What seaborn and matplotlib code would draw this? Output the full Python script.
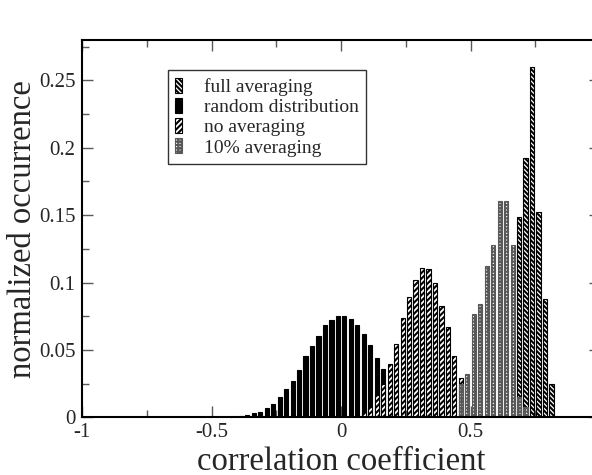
import numpy as np
import pandas as pd
import matplotlib
matplotlib.use('Agg')
import matplotlib.pyplot as plt
from matplotlib.ticker import MultipleLocator, FuncFormatter
import seaborn as sns

# histogram bins, width 0.025 (centres listed below)
random_x = [-0.3875, -0.3625, -0.3375, -0.3125, -0.2875, -0.2625, -0.2375, -0.2125,
            -0.1875, -0.1625, -0.1375, -0.1125, -0.0875, -0.0625, -0.0375, -0.0125,
            0.0125, 0.0375, 0.0625, 0.0875, 0.1125, 0.1375, 0.1625]
random_y = [0.0012, 0.0015, 0.003, 0.0042, 0.0072, 0.0099, 0.0149, 0.0209,
            0.0273, 0.0353, 0.0452, 0.0529, 0.0606, 0.0686, 0.072, 0.075,
            0.075, 0.0731, 0.0683, 0.0616, 0.0537, 0.0437, 0.036]

noavg_x = [0.0875, 0.1125, 0.1375, 0.1625, 0.1875, 0.2125, 0.2375, 0.2625,
           0.2875, 0.3125, 0.3375, 0.3625, 0.3875, 0.4125, 0.4375, 0.4625]
noavg_y = [0.0042, 0.0079, 0.0166, 0.025, 0.0395, 0.0544, 0.074, 0.0895,
           0.1021, 0.1111, 0.1103, 0.0999, 0.0827, 0.0671, 0.0456, 0.0295]

ten_x = [0.4625, 0.4875, 0.5125, 0.5375, 0.5625, 0.5875, 0.6125, 0.6375,
         0.6625, 0.6875, 0.7125]
ten_y = [0.025, 0.0321, 0.0763, 0.0842, 0.1123, 0.128, 0.1603, 0.1603,
         0.128, 0.015, 0.008]

full_x = [0.6875, 0.7125, 0.7375, 0.7625, 0.7875, 0.8125]
full_y = [0.1484, 0.1924, 0.2602, 0.1521, 0.088, 0.025]

sns.set_style("ticks")
plt.rcParams['font.family'] = ['Liberation Serif', 'DejaVu Serif']
plt.rcParams['axes.unicode_minus'] = False
plt.rcParams['hatch.linewidth'] = 1.5

fig = plt.figure(figsize=(5.92, 4.75), dpi=100)
ax = fig.add_axes([0.139, 0.1215, 0.8745, 0.7943])

series = [
    ('full averaging', full_x, full_y, dict(color='white', edgecolor='black', hatch='\\' * 7)),
    ('random distribution', random_x, random_y, dict(color='black', edgecolor='black')),
    ('no averaging', noavg_x, noavg_y, dict(color='white', edgecolor='black', hatch='/' * 6)),
    ('10% averaging', ten_x, ten_y, dict(color='white', edgecolor='0.35', hatch='+' * 5)),
]

for name, xs, ys, style in series:
    df = pd.DataFrame({'x': xs, 'y': ys})
    sns.barplot(data=df, x='x', y='y', native_scale=True, width=0.65,
                errorbar=None, saturation=1, linewidth=0.8, label=name,
                ax=ax, **style)

ax.set_xlim(-1, 1)
ax.set_ylim(0, 0.28)
ax.xaxis.set_major_locator(MultipleLocator(0.5))
ax.xaxis.set_minor_locator(MultipleLocator(0.25))
ax.yaxis.set_major_locator(MultipleLocator(0.05))
ax.yaxis.set_minor_locator(MultipleLocator(0.025))
# the "1" label falls outside the picture in the original
xfmt = FuncFormatter(lambda v, p: '' if v > 0.99 else '%g' % round(v, 3))
yfmt = FuncFormatter(lambda v, p: '%g' % round(v, 3))
ax.xaxis.set_major_formatter(xfmt)
ax.yaxis.set_major_formatter(yfmt)
ax.tick_params(which='both', direction='in', top=True, right=True,
               labelsize=15, width=1, color='0.35')
ax.tick_params(axis='x', pad=4)
ax.tick_params(axis='y', pad=5)
ax.tick_params(which='major', length=8)
ax.tick_params(which='minor', length=5)
for sp in ax.spines.values():
    sp.set_linewidth(1.5)
    sp.set_color('black')

ax.set_xlabel('correlation coefficient', fontsize=23.5, labelpad=3)
ax.set_ylabel('normalized occurrence', fontsize=23.5)
ax.yaxis.set_label_coords(-0.085, 0.5)

leg = ax.legend(loc='upper left', bbox_to_anchor=(0.165, 0.92), fontsize=14,
                frameon=True, fancybox=False, edgecolor='black',
                handlelength=0.35, handleheight=0.8, handletextpad=1.1,
                labelspacing=0.1, borderpad=0.4, borderaxespad=0)
leg.get_frame().set_linewidth(1.0)

fig.savefig('out.png', dpi=100)
